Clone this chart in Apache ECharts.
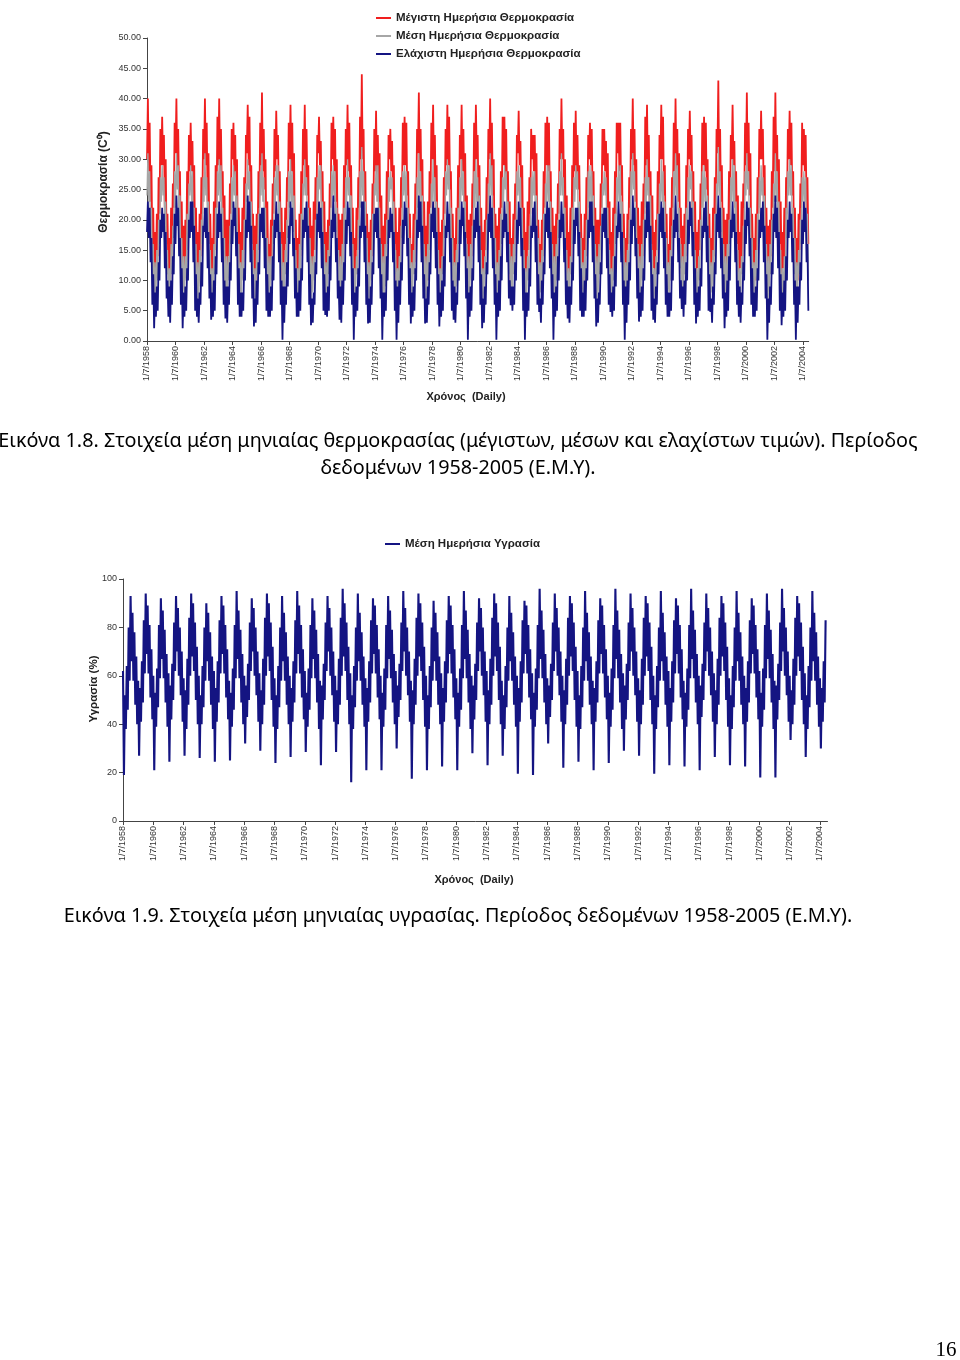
<!DOCTYPE html>
<html><head><meta charset="utf-8">
<script src="https://cdn.jsdelivr.net/npm/echarts@6/dist/echarts.min.js"></script>
<style>html,body{margin:0;padding:0;background:#fff}#c{width:960px;height:1360px}</style>
</head><body><div id="c"></div>
<script>
// Tick labels: 1 July of every second year
const tickYears = [1958,1960,1962,1964,1966,1968,1970,1972,1974,1976,1978,1980,1982,1984,1986,1988,1990,1992,1994,1996,1998,2000,2002,2004];
const startYear = 1958;
const ptsPerYear = 16; // samples per year, starting 1/7/1958

// Μέγιστη Ημερήσια Θερμοκρασία (one row per year, Jul -> Jun)
const tempMax = [
30,40,28,36,23,29,15,22,10,18,11,21,14,27,21,35,
29,37,29,34,22,30,16,21,11,17,10,22,15,26,22,36,
31,40,27,35,24,28,14,23,10,19,12,20,13,28,20,34,
28,36,28,33,22,29,15,22,9,18,11,21,14,27,21,35,
30,40,29,36,23,31,16,21,11,17,10,23,15,29,22,37,
29,40,28,35,24,28,15,24,10,20,12,20,14,26,21,35,
30,36,27,34,22,30,14,22,12,18,11,22,13,27,20,34,
31,39,29,37,23,29,16,21,10,19,10,21,15,28,22,36,
29,41,28,35,25,30,15,23,11,16,12,20,14,26,21,35,
28,38,30,34,22,28,17,22,10,18,11,22,16,27,23,36,
30,39,28,36,23,31,15,20,9,17,10,21,14,28,21,35,
29,39,27,35,24,29,14,22,11,19,12,23,15,27,20,34,
31,37,29,33,22,28,16,23,10,18,11,20,13,26,22,36,
30,37,28,35,23,30,15,21,12,20,10,21,14,29,21,35,
29,39,28,36,24,29,16,22,10,17,11,22,15,27,22,37,
30,44,30,35,22,28,14,21,9,18,12,20,14,26,21,35,
28,38,27,34,23,31,15,24,11,19,10,21,15,28,20,34,
30,35,28,33,22,29,16,22,10,18,11,22,14,27,22,36,
29,37,29,36,24,28,15,21,10,16,12,21,13,26,21,35,
31,41,28,35,23,30,14,23,11,19,10,23,15,28,22,36,
30,39,27,34,22,29,16,22,9,18,11,20,14,27,21,35,
29,39,29,37,25,28,15,21,12,17,10,22,16,29,20,34,
30,39,28,35,23,31,17,24,10,20,12,21,14,26,22,36,
28,39,30,34,22,29,15,22,11,18,11,20,15,27,21,35,
30,40,28,36,24,30,14,21,10,19,10,22,13,28,22,37,
29,37,27,35,23,28,16,23,9,17,12,21,14,26,20,34,
31,38,29,33,22,29,15,22,11,18,11,23,15,27,21,35,
30,34,28,34,24,31,16,20,10,16,10,20,14,28,22,36,
29,37,28,36,23,28,14,22,12,19,12,21,15,26,21,35,
30,40,30,35,22,30,15,24,10,18,11,22,13,29,22,36,
28,38,27,34,25,29,17,21,11,17,10,21,14,27,20,34,
30,36,29,35,23,28,15,22,10,20,12,20,15,26,22,35,
29,35,28,33,22,31,16,23,9,18,11,22,14,28,21,36,
31,36,28,36,24,29,14,21,11,17,10,21,16,27,22,35,
30,40,29,35,23,30,15,22,10,19,12,23,14,26,21,37,
29,39,27,34,22,28,16,24,12,18,11,20,15,28,20,34,
30,39,30,37,24,29,15,21,10,16,10,22,13,27,22,36,
28,40,28,35,23,31,17,22,11,19,11,21,14,29,21,35,
30,38,29,34,22,28,14,23,10,18,12,20,15,26,22,36,
29,37,28,36,25,30,16,21,9,17,10,22,14,27,21,35,
31,43,27,35,23,29,15,22,11,20,11,21,16,28,20,34,
30,39,29,33,22,28,16,24,10,18,12,23,14,26,22,36,
29,41,28,36,24,31,15,21,12,17,10,21,15,27,21,35,
30,38,30,35,23,29,14,22,10,19,11,20,14,28,22,37,
28,41,28,34,22,30,16,23,11,18,12,22,13,27,21,35,
30,38,29,36,24,28,15,22,10,17,10,21,15,26,22,36,
29,35,28,34,22,27,16
];

// Μέση Ημερήσια Θερμοκρασία
const tempMean = [
24,31,23,28,17,22,10,16,6,13,7,15,10,20,16,27,
23,29,24,27,18,23,11,15,7,12,6,16,11,19,17,28,
22,31,25,29,16,24,10,17,6,14,8,14,10,21,15,26,
24,29,23,28,17,22,9,16,5,13,7,15,9,20,16,27,
23,31,24,27,18,23,11,15,7,12,6,16,11,22,17,28,
24,30,23,29,17,22,10,17,6,14,8,14,10,19,16,27,
22,29,24,28,16,24,9,16,7,13,7,15,10,20,15,26,
23,30,25,28,18,23,11,15,5,12,6,16,11,21,17,28,
24,31,23,27,17,22,10,17,6,14,8,14,10,19,16,27,
23,29,24,29,16,23,12,16,7,13,7,15,11,20,17,28,
22,30,23,28,18,24,10,15,5,12,6,16,9,21,15,26,
24,30,24,27,17,22,9,17,6,14,8,14,10,20,16,27,
23,29,25,29,16,23,11,16,7,13,7,15,11,19,17,28,
24,29,23,28,18,22,10,15,6,14,6,16,10,22,16,27,
23,30,24,27,17,24,11,16,5,12,8,14,11,20,17,28,
22,32,24,28,16,23,9,17,6,13,7,15,10,21,15,26,
24,29,23,29,18,22,10,16,7,14,6,16,9,20,16,27,
23,28,25,27,17,23,11,15,6,12,8,14,10,19,17,28,
24,29,23,28,16,22,10,17,6,13,7,15,11,20,16,27,
22,31,24,28,18,24,9,16,7,14,6,16,10,21,15,26,
23,30,23,27,17,23,11,15,5,12,7,14,11,20,17,28,
24,30,25,29,16,22,10,17,6,13,8,15,9,22,16,27,
23,30,24,28,18,23,12,16,7,14,6,16,10,19,17,28,
22,30,23,27,17,24,10,15,6,12,7,14,11,20,15,26,
24,31,24,29,16,22,9,17,5,13,8,15,10,21,16,27,
23,29,25,28,18,23,11,16,7,14,6,16,11,20,17,28,
24,29,23,27,17,22,10,15,6,12,7,14,10,19,16,27,
22,28,24,28,16,24,11,17,6,13,8,15,9,21,15,26,
23,29,23,29,18,23,9,16,7,14,6,16,10,20,17,28,
24,31,24,27,17,22,10,15,5,12,7,14,11,22,16,27,
23,29,25,28,16,23,12,17,6,13,8,15,10,20,17,28,
22,29,23,28,18,24,10,16,7,14,6,16,11,19,15,26,
24,28,24,27,17,22,11,15,6,12,7,14,10,21,16,27,
23,29,23,29,16,23,9,17,5,13,8,15,9,20,17,28,
24,31,25,28,18,22,10,16,7,14,6,16,10,20,16,27,
22,30,24,27,17,24,11,15,6,12,7,14,11,21,15,26,
23,30,23,28,16,23,10,17,6,13,8,15,10,19,17,28,
24,31,24,29,18,22,12,16,7,14,6,16,11,22,16,27,
23,29,25,28,17,23,10,15,5,12,7,14,10,20,17,28,
22,29,23,27,16,24,9,17,6,13,8,15,9,21,15,26,
24,32,24,28,18,22,11,16,7,14,6,16,10,20,16,27,
23,30,23,29,17,23,10,15,6,12,7,14,11,19,17,28,
24,31,25,28,16,22,11,17,6,13,8,15,10,21,16,27,
22,29,24,27,18,24,10,16,7,14,6,16,11,20,15,26,
23,31,23,28,17,23,9,15,5,12,7,14,10,22,17,28,
24,30,24,29,16,22,11,17,6,13,8,15,11,20,16,27,
23,28,23,27,17,21,10
];

// Ελάχιστη Ημερήσια Θερμοκρασία
const tempMin = [
18,23,17,22,13,17,6,11,2.1,8,4,9,5,13,10,20,
17,22,18,21,12,18,7,10,4,9,3,10,6,14,11,21,
16,24,19,22,14,17,6,12,2.1,8,4,9,5,12,10,20,
17,23,18,23,13,19,5,11,4,7,3,8,6,13,9,19,
18,22,17,22,12,18,7,11,3.5,8,4,10,5,14,11,21,
17,23,18,21,13,17,6,10,3.7,9,3,9,6,13,10,20,
16,23,19,22,14,18,6,12,4,8,4,8,5,12,10,20,
17,24,18,23,13,19,7,11,2.4,7,3,10,6,13,11,21,
18,22,17,22,12,17,5,11,4,8,4,9,5,14,10,20,
17,23,18,21,13,18,6,10,0.2,9,3,9,6,13,9,19,
16,23,19,22,14,17,7,12,4,8,4,10,5,12,10,20,
17,22,18,23,13,19,6,11,2.6,7,3,8,6,13,11,21,
18,23,17,22,12,18,5,11,4.3,8,4,9,5,14,10,20,
17,24,18,21,13,17,7,10,3.5,9,3,10,6,13,10,20,
16,23,19,22,14,18,6,12,0.2,8,4,9,5,12,9,19,
17,23,18,23,13,19,6,11,2.9,7,3,9,6,13,11,21,
18,22,17,22,12,17,7,11,0.2,8,4,8,5,14,10,20,
17,22,18,21,13,18,5,10,0.2,9,3,10,6,13,10,20,
16,23,19,22,14,17,6,12,2.9,8,4,9,5,12,10,20,
17,24,18,23,13,19,7,11,2.9,7,3,9,6,13,11,21,
18,23,17,22,12,18,6,11,2.4,8,4,10,5,14,9,19,
17,23,18,21,13,17,5,10,3.5,9,3,8,6,13,10,20,
16,23,19,22,14,18,7,12,0.2,8,4,9,5,12,10,20,
17,22,18,23,13,19,6,11,2.1,7,3,9,6,13,11,21,
18,24,17,22,12,17,6,11,0.2,8,4,10,5,14,10,20,
17,23,18,21,13,18,7,10,5.9,9,5,9,6,13,10,20,
16,23,19,22,14,17,5,12,0.2,8,4,8,5,12,9,19,
17,22,18,23,13,19,6,11,4.8,7,3,10,6,13,11,21,
18,23,17,22,12,18,7,11,0.2,8,4,9,5,14,10,20,
17,23,18,21,13,17,6,10,3.7,9,3,9,6,13,10,20,
16,22,19,22,14,18,5,12,4,8,4,10,5,12,10,20,
17,23,18,23,13,19,7,11,2.4,7,3,8,6,13,11,21,
18,22,17,22,12,17,6,11,4.8,8,4,9,5,14,9,19,
17,23,18,21,13,18,6,10,0.2,9,3,10,6,13,10,20,
16,24,19,22,14,17,7,12,3.2,8,4,9,5,12,10,20,
17,23,18,23,13,19,5,11,3.5,7,3,9,6,13,11,21,
18,23,17,22,12,18,6,11,4,8,4,8,5,14,10,20,
17,24,18,21,13,17,7,10,5.3,9,4,10,6,13,10,20,
16,23,19,22,14,18,6,12,2.9,8,4,9,5,12,9,19,
17,22,18,23,13,19,5,11,4.8,7,3,9,6,13,11,21,
18,24,17,22,12,17,7,11,2.1,8,4,10,5,14,10,20,
17,23,18,21,13,18,6,10,4,9,3,8,6,13,10,20,
16,23,19,22,14,17,6,12,4,8,4,9,5,12,10,20,
17,22,18,23,13,19,7,11,0.2,7,3,9,6,13,11,21,
18,24,17,22,12,18,5,11,2.6,8,4,10,5,14,10,20,
17,23,18,21,13,17,6,10,0.2,9,3,9,6,13,10,20,
16,23,18,22,13,16,5
];

// Μέση Ημερήσια Υγρασία (%)
const humidity = [
62,19,52,38,64,46,80,58,93,66,86,58,78,48,68,40,
58,27,55,41,66,49,83,61,94,69,89,61,81,51,71,42,
60,21,53,39,63,47,81,59,92,67,87,59,79,49,69,39,
61,24.5,56,42,65,50,82,62,93,70,88,60,80,52,70,41,
59,27,54,38,67,48,84,60,94,68,90,62,82,50,72,40,
60,26,52,40,64,47,80,58,90,66,86,58,78,48,68,38,
62,24.5,55,41,66,49,83,61,93,69,89,61,81,51,71,42,
58,25,53,39,63,46,81,59,95,67,87,59,79,49,69,40,
60,32,56,43,65,50,82,62,92,70,88,60,80,52,70,41,
61,29,54,40,67,48,84,60,94,68,90,62,82,50,72,39,
59,24,52,38,64,47,80,58,93,66,86,58,78,48,68,40,
60,26.5,55,41,66,49,83,61,95,69,89,61,81,51,71,42,
62,28.5,53,39,63,46,81,59,92,67,87,59,79,49,69,38,
58,23,56,42,65,50,82,62,93,70,88,60,80,52,70,41,
60,28.5,54,40,67,48,84,60,96,68,90,62,82,50,72,40,
61,16,52,38,64,47,80,58,94,66,86,58,78,48,68,39,
59,21,55,41,66,49,83,61,92,69,89,61,81,51,71,42,
60,21,53,39,63,46,81,59,93,67,87,59,79,49,69,40,
62,30,56,43,65,50,82,62,95,70,88,60,80,52,70,41,
58,17.5,54,40,67,48,84,60,94,68,90,62,82,50,72,39,
60,21,52,38,64,47,80,58,91,66,86,58,78,48,68,40,
61,22.5,55,41,66,49,83,61,93,69,89,61,81,51,71,42,
59,21,53,39,63,46,81,59,95,67,87,59,79,49,69,38,
60,28,56,42,65,50,82,62,92,70,88,60,80,52,70,41,
62,23,54,40,67,48,84,60,94,68,90,62,82,50,72,40,
58,27,52,38,64,47,80,58,93,66,86,58,78,48,68,39,
60,19.5,55,41,66,49,83,61,91,69,89,61,81,51,71,42,
61,19,53,39,63,46,81,59,96,67,87,59,79,49,69,40,
59,32,56,43,65,50,82,62,94,70,88,60,80,52,70,41,
60,22,54,40,67,48,84,60,93,68,90,62,82,50,72,39,
62,24.5,52,38,64,47,80,58,95,66,86,58,78,48,68,40,
58,21,55,41,66,49,83,61,92,69,89,61,81,51,71,42,
60,24,53,39,63,46,81,59,96,67,87,59,79,49,69,38,
61,29,56,42,65,50,82,62,94,70,88,60,80,52,70,41,
59,27,54,40,67,48,84,60,93,68,90,62,82,50,72,40,
60,19.5,52,38,64,47,80,58,95,66,86,58,78,48,68,39,
62,23,55,41,66,49,83,61,92,69,89,61,81,51,71,42,
58,22.5,53,39,63,46,81,59,96,67,87,59,79,49,69,40,
60,21,56,43,65,50,82,62,94,70,88,60,80,52,70,41,
61,26.5,54,40,67,48,84,60,93,68,90,62,82,50,72,39,
59,23,52,38,64,47,80,58,95,66,86,58,78,48,68,40,
60,22.5,55,41,66,49,83,61,92,69,89,61,81,51,71,42,
62,18,53,39,63,46,81,59,94,67,87,59,79,49,69,38,
58,18,56,42,65,50,82,62,96,70,88,60,80,52,70,41,
60,33.5,54,40,67,48,84,60,93,68,90,62,82,50,72,40,
61,26.5,52,38,64,47,80,58,95,66,86,58,78,48,68,39,
59,30,55,41,66,49,83
];

const names = {
  max: 'Μέγιστη Ημερήσια Θερμοκρασία',
  mean: 'Μέση Ημερήσια Θερμοκρασία',
  min: 'Ελάχιστη Ημερήσια Θερμοκρασία',
  hum: 'Μέση Ημερήσια Υγρασία'
};

const toXY = arr => arr.map((v, i) => [i / ptsPerYear, v]);
const tickVals = tickYears.map(y => y - startYear);
const AX = 'Liberation Sans';

function xAxisCfg(gridIndex, max) {
  return {
    type: 'value', gridIndex, min: 0, max,
    axisLine: { show: true, onZero: false, lineStyle: { color: '#444', width: 1 } },
    axisTick: { show: true, customValues: tickVals, length: 4, lineStyle: { color: '#444' } },
    axisLabel: {
      customValues: tickVals, rotate: 90, fontSize: 9, fontFamily: AX, color: '#333', margin: 5,
      formatter: v => '1/7/' + (startYear + Math.round(v))
    },
    splitLine: { show: false }
  };
}

const chart = echarts.init(document.getElementById('c'), null, { renderer: 'canvas' });
const lineBase = { type: 'line', symbol: 'none', showSymbol: false, animation: false, silent: true };

chart.setOption({
  backgroundColor: '#fff',
  animation: false,
  grid: [
    { left: 147, top: 38, width: 661.7, height: 303 },
    { left: 123, top: 579, width: 704.5, height: 242 }
  ],
  xAxis: [xAxisCfg(0, 46.4), xAxisCfg(1, 46.5)],
  yAxis: [
    {
      type: 'value', gridIndex: 0, min: 0, max: 50, interval: 5,
      axisLine: { show: true, lineStyle: { color: '#444' } },
      axisTick: { show: true, length: 4, lineStyle: { color: '#444' } },
      axisLabel: { fontSize: 9, fontFamily: AX, color: '#333', margin: 6, formatter: v => v.toFixed(2) },
      splitLine: { show: false }
    },
    {
      type: 'value', gridIndex: 1, min: 0, max: 100, interval: 20,
      axisLine: { show: true, lineStyle: { color: '#444' } },
      axisTick: { show: true, length: 4, lineStyle: { color: '#444' } },
      axisLabel: { fontSize: 9, fontFamily: AX, color: '#333', margin: 6 },
      splitLine: { show: false }
    }
  ],
  legend: [
    {
      orient: 'vertical', left: 371, top: 7, itemGap: 6, itemWidth: 15, itemHeight: 2, icon: 'rect',
      data: [names.max, names.mean, names.min],
      textStyle: { fontFamily: AX, fontWeight: 'bold', fontSize: 11.5, color: '#222', padding: [0, 0, 0, 0] }
    },
    {
      orient: 'vertical', left: 380, top: 533, itemWidth: 15, itemHeight: 2, icon: 'rect',
      data: [names.hum],
      textStyle: { fontFamily: AX, fontWeight: 'bold', fontSize: 11.5, color: '#222' }
    }
  ],
  series: [
    Object.assign({}, lineBase, { name: names.max, xAxisIndex: 0, yAxisIndex: 0, data: toXY(tempMax), color: '#f01e1e', lineStyle: { width: 1.8, color: '#f01e1e' } }),
    Object.assign({}, lineBase, { name: names.mean, xAxisIndex: 0, yAxisIndex: 0, data: toXY(tempMean), color: '#a6a6a6', lineStyle: { width: 1.3, color: '#a6a6a6' } }),
    Object.assign({}, lineBase, { name: names.min, xAxisIndex: 0, yAxisIndex: 0, data: toXY(tempMin), color: '#141482', lineStyle: { width: 1.8, color: '#141482' } }),
    Object.assign({}, lineBase, { name: names.hum, xAxisIndex: 1, yAxisIndex: 1, data: toXY(humidity), color: '#141482', lineStyle: { width: 2.1, color: '#141482' } })
  ],
  graphic: [
    { type: 'text', x: 104, y: 182, rotation: Math.PI / 2,
      style: { text: 'Θερμοκρασία (C⁰)', x: 0, y: 0, align: 'center', verticalAlign: 'middle', font: 'bold 12px "Liberation Sans"', fill: '#222' } },
    { type: 'text', x: 466, y: 397,
      style: { text: 'Χρόνος  (Daily)', align: 'center', verticalAlign: 'middle', font: 'bold 11px "Liberation Sans"', fill: '#222' } },
    { type: 'text', x: 94, y: 689, rotation: Math.PI / 2,
      style: { text: 'Υγρασία (%)', x: 0, y: 0, align: 'center', verticalAlign: 'middle', font: 'bold 11.5px "Liberation Sans"', fill: '#222' } },
    { type: 'text', x: 474, y: 880,
      style: { text: 'Χρόνος  (Daily)', align: 'center', verticalAlign: 'middle', font: 'bold 11px "Liberation Sans"', fill: '#222' } },
    { type: 'text', x: 458, y: 441,
      style: { text: 'Εικόνα 1.8. Στοιχεία μέση μηνιαίας θερμοκρασίας (μέγιστων, μέσων και ελαχίστων τιμών). Περίοδος', align: 'center', verticalAlign: 'middle', font: '19.8px "Noto Sans"', fill: '#000' } },
    { type: 'text', x: 458, y: 468,
      style: { text: 'δεδομένων 1958-2005 (Ε.Μ.Υ).', align: 'center', verticalAlign: 'middle', font: '19.8px "Noto Sans"', fill: '#000' } },
    { type: 'text', x: 458, y: 916,
      style: { text: 'Εικόνα 1.9. Στοιχεία μέση μηνιαίας υγρασίας. Περίοδος δεδομένων 1958-2005 (Ε.Μ.Υ).', align: 'center', verticalAlign: 'middle', font: '19.8px "Noto Sans"', fill: '#000' } },
    { type: 'text', x: 946, y: 1350,
      style: { text: '16', align: 'center', verticalAlign: 'middle', font: '21px "Liberation Serif"', fill: '#000' } }
  ]
});
</script>
</body></html>
